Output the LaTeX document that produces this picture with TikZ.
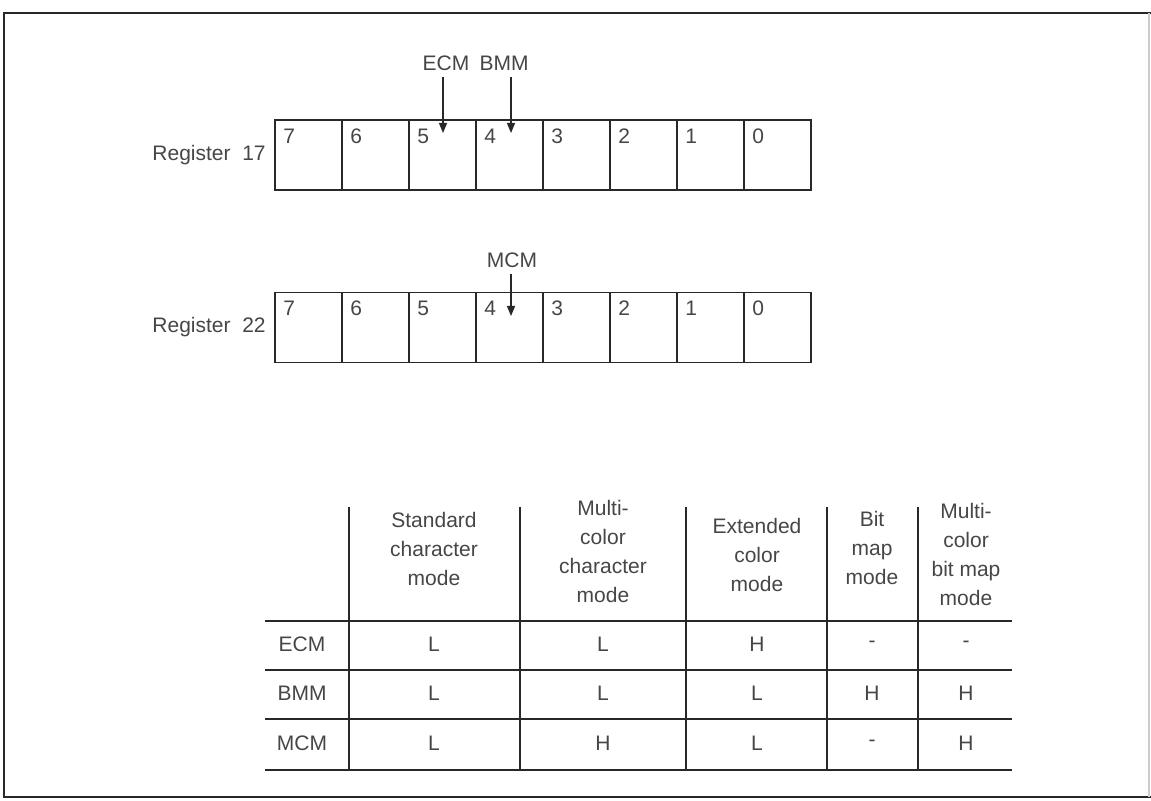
\documentclass[tikz,border=0pt]{standalone}
\usepackage{fontspec}
\setmainfont{Liberation Sans}
\usepackage{tikz}
\usetikzlibrary{arrows.meta,positioning,calc}
\usepackage{xcolor}
\definecolor{inkgray}{RGB}{70,70,70}
\definecolor{rulegray}{RGB}{40,40,40}

\begin{document}
\begin{tikzpicture}[x=0.5pt, y=-0.5pt,
    every node/.style={font=\fontsize{10.5}{14.5}\selectfont, text=inkgray},
    bitcell/.style={draw=rulegray, line width=0.9pt, minimum width=33.5pt, minimum height=35pt, inner sep=0pt},
    bitnum/.style={inner sep=0pt},
    reglabel/.style={inner sep=0pt},
    bitarrow/.style={-{Triangle[length=5pt,width=4pt]}, line width=0.6pt, draw=rulegray},
    tablerule/.style={line width=0.9pt, draw=rulegray},
    headtext/.style={align=center, inner sep=0pt}]
        \useasboundingbox (0,0) rectangle (1151,801);
        \def\cw{67}

        % frame
        \draw[line width=1pt, rulegray] (1151,13) -- (4,13) -- (4,797) -- (1151,797);
        \draw[line width=0.6pt, black!20] (1149,13) -- (1149,797);

        % registers 17 and 22
        \foreach \reg/\ry in {17/155, 22/327.5} {
          \foreach \b [count=\k from 0] in {7,6,5,4,3,2,1,0} {
            \node[bitcell] (r\reg-\b) at ({275+(\k+0.5)*\cw},\ry) {};
            \node[bitnum] (r\reg-n\b) at ([shift={(15,17)}]r\reg-\b.north west) {\b};
          }
          \node[reglabel, left=4pt of r\reg-7] (r\reg-lab) {Register\ \ \reg};
        }

        % mode bits
        \node (ecm) at (446,63) {ECM};
        \node (bmm) at (504,63) {BMM};
        \node (mcm) at (512,260) {MCM};
        \coordinate (ecmtip) at (443,133);
        \coordinate (bmmtip) at (511,133);
        \coordinate (mcmtip) at (511,316);
        \draw[bitarrow] (ecm.south -| ecmtip) -- (ecmtip);
        \draw[bitarrow] (bmm.south -| bmmtip) -- (bmmtip);
        \draw[bitarrow] (mcm.south -| mcmtip) -- (mcmtip);

        % table rules
        \foreach \hy in {621,670,719,770}
          \draw[tablerule] (265,\hy) -- (1012,\hy);
        \foreach \vx in {349,520,686,827,918}
          \draw[tablerule] (\vx,507) -- (\vx,770);

        % column heads
        \foreach \col/\cx/\cy/\txt in {1/434/549/{Standard\\character\\mode},
            2/603/551/{Multi-\\color\\character\\mode},
            3/757/555/{Extended\\color\\mode},
            4/872/548/{Bit\\map\\mode},
            5/966/554/{Multi-\\color\\bit map\\mode}} {
          \node[headtext] (head\col) at (\cx,\cy) {\txt};
        }

        % rows
        \foreach \row/\ry/\vals in {ECM/644/{L,L,H,-,-}, BMM/693/{L,L,L,H,H}, MCM/743/{L,H,L,-,H}} {
          \node (row\row) at (302,\ry) {\row};
          \foreach \v [count=\c] in \vals {
            \pgfmathsetmacro\cx{{434,603,757,872,966}[\c-1]}
            \node (\row-\c) at (\cx,\ry) {\v};
          }
        }
      \end{tikzpicture}
\end{document}
